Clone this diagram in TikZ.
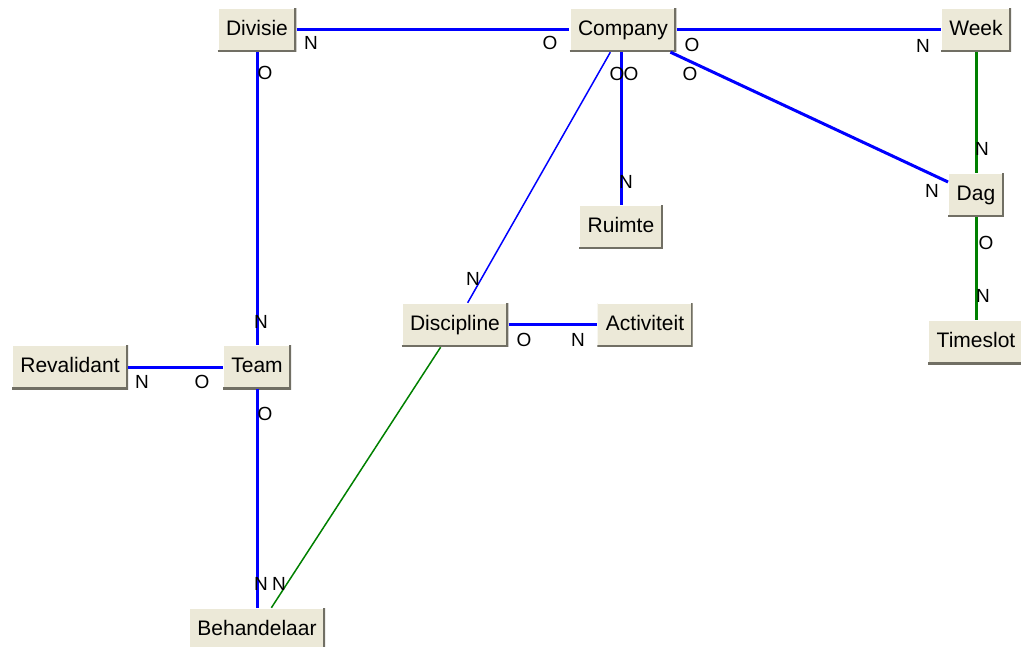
\documentclass[tikz,border=0pt]{standalone}
\usepackage{fontspec}
\setmainfont{Liberation Sans}
\usetikzlibrary{positioning}

\definecolor{btnface}{RGB}{236,233,216}
\definecolor{btnshade}{RGB}{113,111,100}
\definecolor{relblue}{RGB}{0,0,255}
\definecolor{relgreen}{RGB}{0,128,0}

\tikzset{
    ent/.style={fill=btnface, inner xsep=8.5pt, inner ysep=0pt,
        minimum height=44pt, text height=15pt, text depth=4pt,
        font=\fontsize{21}{25}\selectfont,
        path picture={
            \draw[white, line width=2pt](path picture bounding box.south west)--(path picture bounding box.north west)--(path picture bounding box.north east);
            \draw[btnshade, line width=4pt](path picture bounding box.south west)--(path picture bounding box.south east)--(path picture bounding box.north east);
        }},
    card/.style={inner sep=0pt, font=\fontsize{19}{23}\selectfont},
    rel/.style={relblue, line width=3pt},
    thinrel/.style={relblue, line width=1.5pt},
    grel/.style={relgreen, line width=3pt},
    thingrel/.style={relgreen, line width=1.5pt}
}

\begin{document}
\begin{tikzpicture}[x=1pt, y=-1pt]
            \useasboundingbox(0, 0) rectangle (1021, 647);

            % entities
            \node[ent](div) at (257, 30){Divisie};
            \node[ent](comp) at (623, 30){Company};
            \node[ent](week) at (976, 30){Week};
            \node[ent](dag) at (976, 195){Dag};
            \node[ent](slot) at (976, 342){Timeslot};
            \node[ent](rui) at (621, 227){Ruimte};
            \node[ent](disc) at (455, 325){Discipline};
            \node[ent](act) at (645, 325){Activiteit};
            \node[ent](rev) at (70, 367){Revalidant};
            \node[ent](team) at (257, 367){Team};
            \node[ent](beh) at (257, 630){Behandelaar};

            % relations
            \draw[rel](div)--(comp);
            \draw[rel](comp)--(week);
            \draw[rel](comp)--(dag);
            \draw[rel](rui.north)--(rui |- comp.south);
            \draw[thinrel](comp)--(disc);
            \draw[grel](week)--(dag);
            \draw[grel](dag)--(slot);
            \draw[rel](div)--(team);
            \draw[rel](rev)--(team);
            \draw[rel](team)--(beh);
            \draw[rel](disc)--(act);
            \draw[thingrel](disc)--(beh);

            % cardinalities
            \node[card](divcompN) at (311, 43){N};
            \node[card](divcompO) at (550, 43){O};
            \node[card](compweekO) at (692, 45){O};
            \node[card](compweekN) at (923, 46){N};
            \node[card](compdagO) at (690, 74){O};
            \node[card](compdagN) at (932, 191){N};
            \node[card](compdiscO) at (617, 74){O};
            \node[card](comprxO) at (631, 74){O};
            \node[card](comprxN) at (626, 182){N};
            \node[card](compdiscN) at (473, 279){N};
            \node[card](weekdagN) at (982, 149){N};
            \node[card](dagslotO) at (986, 243){O};
            \node[card](dagslotN) at (983, 296){N};
            \node[card](divteamO) at (265, 73){O};
            \node[card](divteamN) at (261, 322){N};
            \node[card](revteamN) at (142, 382){N};
            \node[card](revteamO) at (202, 382){O};
            \node[card](teambehO) at (265, 414){O};
            \node[card](teambehN) at (261, 584){N};
            \node[card](discbehN) at (279, 584){N};
            \node[card](discactO) at (524, 340){O};
            \node[card](discactN) at (578, 340){N};
        \end{tikzpicture}
\end{document}
